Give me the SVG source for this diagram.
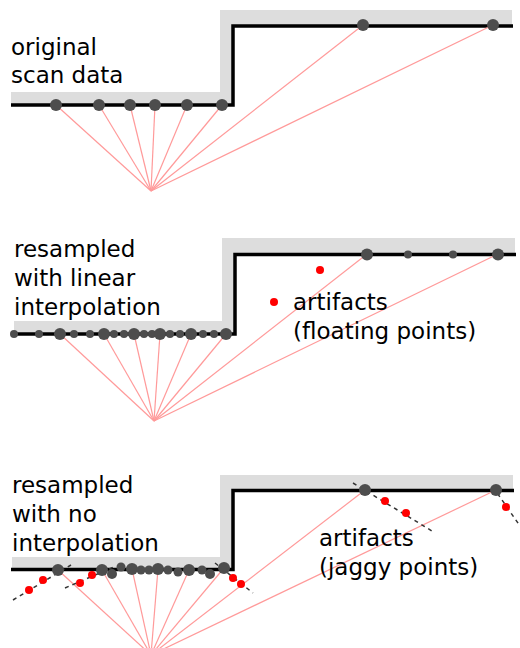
<svg xmlns="http://www.w3.org/2000/svg" width="520" height="648" viewBox="0 0 520 648">
  <style>
    .band { fill: #dddddd; }
    .surf { fill: none; stroke: #000; stroke-width: 3.5; stroke-linejoin: miter; }
    .ray { stroke: #ff9a9a; stroke-width: 1.2; fill: none; }
    .dash { stroke: #333; stroke-width: 1.5; stroke-dasharray: 4 4; fill: none; }
    .pt { fill: #4d4d4d; }
    .bad { fill: #ff0000; }
    .lbl { font-family: "DejaVu Sans", "Liberation Sans", sans-serif; font-size: 23px; fill: #000; }
  </style>
  <rect width="520" height="648" fill="#fff"/>

  <!-- Panel 1: original scan data -->
  <g id="panel-original">
    <polygon class="band" points="11,92 220,92 220,10 512,10 512,26 233,26 233,105 11,105"/>
    <polyline class="surf" points="11,105 233,105 233,26 513,26"/>
    <g id="rays-original">
      <line class="ray" x1="151" y1="191" x2="56" y2="105"/>
      <line class="ray" x1="151" y1="191" x2="99" y2="105"/>
      <line class="ray" x1="151" y1="191" x2="130" y2="105"/>
      <line class="ray" x1="151" y1="191" x2="155" y2="105"/>
      <line class="ray" x1="151" y1="191" x2="187" y2="105"/>
      <line class="ray" x1="151" y1="191" x2="222" y2="105"/>
      <line class="ray" x1="151" y1="191" x2="363" y2="25"/>
      <line class="ray" x1="151" y1="191" x2="493" y2="25"/>
    </g>
    <g id="samples-original">
      <circle class="pt" cx="56" cy="105" r="6"/>
      <circle class="pt" cx="99" cy="105" r="6"/>
      <circle class="pt" cx="130" cy="105" r="6"/>
      <circle class="pt" cx="155" cy="105" r="6"/>
      <circle class="pt" cx="187" cy="105" r="6"/>
      <circle class="pt" cx="222" cy="105" r="6"/>
      <circle class="pt" cx="363" cy="25" r="6"/>
      <circle class="pt" cx="493" cy="25" r="6"/>
    </g>
    <text class="lbl" x="11" y="55">original</text>
    <text class="lbl" x="11" y="83">scan data</text>
  </g>

  <!-- Panel 2: linear interpolation -->
  <g id="panel-linear">
    <polygon class="band" points="14,321 222,321 222,238 515,238 515,254.5 235,254.5 235,334 14,334"/>
    <polyline class="surf" points="14,334 235,334 235,254.5 516,254.5"/>
    <g id="rays-linear">
      <line class="ray" x1="154" y1="421" x2="60" y2="334"/>
      <line class="ray" x1="154" y1="421" x2="104" y2="334"/>
      <line class="ray" x1="154" y1="421" x2="134" y2="334"/>
      <line class="ray" x1="154" y1="421" x2="160" y2="334"/>
      <line class="ray" x1="154" y1="421" x2="191" y2="334"/>
      <line class="ray" x1="154" y1="421" x2="226" y2="334"/>
      <line class="ray" x1="154" y1="421" x2="367" y2="254"/>
      <line class="ray" x1="154" y1="421" x2="498" y2="254"/>
    </g>
    <g id="samples-linear">
      <circle class="pt" cx="14" cy="334" r="4"/>
      <circle class="pt" cx="39" cy="334" r="4"/>
      <circle class="pt" cx="60" cy="334" r="6"/>
      <circle class="pt" cx="74" cy="334" r="4"/>
      <circle class="pt" cx="90" cy="334" r="4"/>
      <circle class="pt" cx="104" cy="334" r="6"/>
      <circle class="pt" cx="114" cy="334" r="4"/>
      <circle class="pt" cx="124" cy="334" r="4"/>
      <circle class="pt" cx="134" cy="334" r="6"/>
      <circle class="pt" cx="144" cy="334" r="4"/>
      <circle class="pt" cx="152" cy="334" r="4"/>
      <circle class="pt" cx="160" cy="334" r="6"/>
      <circle class="pt" cx="170" cy="334" r="4"/>
      <circle class="pt" cx="180" cy="334" r="4"/>
      <circle class="pt" cx="191" cy="334" r="6"/>
      <circle class="pt" cx="203" cy="334" r="4"/>
      <circle class="pt" cx="214" cy="334" r="4"/>
      <circle class="pt" cx="226" cy="334" r="6"/>
      <circle class="pt" cx="367" cy="254.5" r="6"/>
      <circle class="pt" cx="408" cy="254.5" r="4"/>
      <circle class="pt" cx="453" cy="254.5" r="4"/>
      <circle class="pt" cx="498" cy="254.5" r="6"/>
      <circle class="bad" cx="320" cy="270" r="4"/>
      <circle class="bad" cx="274" cy="302" r="4"/>
    </g>
    <text class="lbl" x="14" y="257">resampled</text>
    <text class="lbl" x="14" y="286">with linear</text>
    <text class="lbl" x="14" y="315">interpolation</text>
    <text class="lbl" x="293" y="310">artifacts</text>
    <text class="lbl" x="293" y="339">(floating points)</text>
  </g>

  <!-- Panel 3: no interpolation -->
  <g id="panel-nearest">
    <polygon class="band" points="12,557 220,557 220,475 513,475 513,490.5 233,490.5 233,569.5 12,569.5"/>
    <polyline class="surf" points="11,569.5 233,569.5 233,490.5 514,490.5"/>
    <g id="rays-nearest">
      <line class="ray" x1="151" y1="655" x2="58" y2="570"/>
      <line class="ray" x1="151" y1="655" x2="102" y2="570"/>
      <line class="ray" x1="151" y1="655" x2="132" y2="569"/>
      <line class="ray" x1="151" y1="655" x2="158" y2="569"/>
      <line class="ray" x1="151" y1="655" x2="189" y2="570"/>
      <line class="ray" x1="151" y1="655" x2="224" y2="568"/>
      <line class="ray" x1="151" y1="655" x2="365" y2="490"/>
      <line class="ray" x1="151" y1="655" x2="496" y2="490"/>
    </g>
    <g id="jaggies">
      <line class="dash" x1="13" y1="600" x2="71" y2="565"/>
      <line class="dash" x1="65" y1="588" x2="116" y2="566"/>
      <line class="dash" x1="215" y1="563" x2="253" y2="593"/>
      <line class="dash" x1="353" y1="483" x2="432" y2="531"/>
      <line class="dash" x1="493" y1="487" x2="520" y2="526"/>
    </g>
    <g id="samples-nearest">
      <circle class="pt" cx="58" cy="570" r="6"/>
      <circle class="pt" cx="102" cy="570" r="6"/>
      <circle class="pt" cx="112" cy="574" r="5"/>
      <circle class="pt" cx="121" cy="567" r="4.5"/>
      <circle class="pt" cx="132" cy="569" r="6"/>
      <circle class="pt" cx="141" cy="570" r="4.5"/>
      <circle class="pt" cx="149" cy="570" r="4.5"/>
      <circle class="pt" cx="158" cy="569" r="6"/>
      <circle class="pt" cx="168" cy="570" r="4.5"/>
      <circle class="pt" cx="178" cy="572" r="4.5"/>
      <circle class="pt" cx="189" cy="570" r="6"/>
      <circle class="pt" cx="202" cy="570" r="4.5"/>
      <circle class="pt" cx="210" cy="574" r="5"/>
      <circle class="pt" cx="224" cy="568" r="6"/>
      <circle class="pt" cx="365" cy="490" r="6"/>
      <circle class="pt" cx="496" cy="490" r="6"/>
      <circle class="bad" cx="29" cy="590" r="4"/>
      <circle class="bad" cx="43" cy="580" r="4"/>
      <circle class="bad" cx="80" cy="583" r="4"/>
      <circle class="bad" cx="92" cy="575" r="4"/>
      <circle class="bad" cx="233" cy="578" r="4"/>
      <circle class="bad" cx="241" cy="584" r="4"/>
      <circle class="bad" cx="385" cy="501" r="4"/>
      <circle class="bad" cx="406" cy="513" r="4"/>
      <circle class="bad" cx="506" cy="507" r="4"/>
    </g>
    <text class="lbl" x="12" y="493">resampled</text>
    <text class="lbl" x="12" y="522">with no</text>
    <text class="lbl" x="12" y="551">interpolation</text>
    <text class="lbl" x="319" y="546">artifacts</text>
    <text class="lbl" x="319" y="575">(jaggy points)</text>
  </g>
</svg>
